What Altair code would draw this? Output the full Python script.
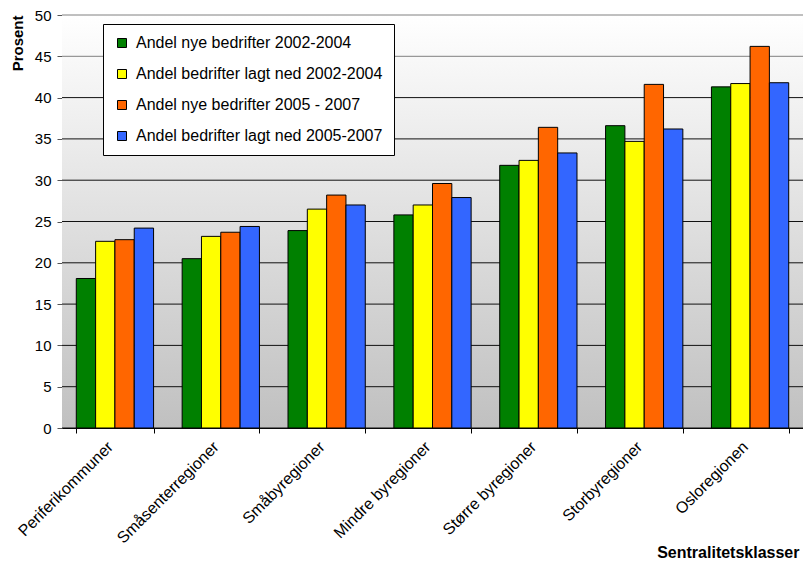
import altair as alt
import pandas as pd

categories = ["Periferikommuner", "Småsenterregioner", "Småbyregioner",
              "Mindre byregioner", "Større byregioner", "Storbyregioner",
              "Osloregionen"]
series = ["Andel nye bedrifter 2002-2004",
          "Andel bedrifter lagt ned 2002-2004",
          "Andel nye bedrifter 2005 - 2007",
          "Andel bedrifter lagt ned 2005-2007"]
nye_0204 = [18.1, 20.5, 23.9, 25.8, 31.8, 36.6, 41.3]
ned_0204 = [22.6, 23.2, 26.5, 27.0, 32.4, 34.7, 41.7]
nye_0507 = [22.8, 23.7, 28.2, 29.6, 36.4, 41.6, 46.2]
ned_0507 = [24.2, 24.4, 27.0, 27.9, 33.3, 36.2, 41.8]
colors = ["#008000", "#FFFF00", "#FF6600", "#3366FF"]
y_ticks = [0, 5, 10, 15, 20, 25, 30, 35, 40, 45, 50]

rows = []
for s, vals in zip(series, [nye_0204, ned_0204, nye_0507, ned_0507]):
    for c, v in zip(categories, vals):
        rows.append({"cat": c, "series": s, "val": v})
df = pd.DataFrame(rows)

FONT = "Liberation Sans"
W, H = 741, 413

y_scale = alt.Scale(domain=[0, 50], nice=False)
y_axis = alt.Axis(values=y_ticks, tickSize=5, labelPadding=6, labelFontSize=15,
                  labelFont=FONT, labelColor="black", domainColor="#555555",
                  tickColor="#555555", grid=False, title="Prosent",
                  titleFont=FONT, titleFontSize=15, titleFontWeight="bold",
                  titleColor="black", titleAnchor="end", titlePadding=9)

bg = alt.Chart(alt.Data(values=[{"a": 1}])).mark_rect(
    color=alt.Gradient(gradient="linear",
                       stops=[alt.GradientStop(color="#ffffff", offset=0),
                              alt.GradientStop(color="#c0c0c0", offset=1)],
                       x1=0, x2=0, y1=0, y2=1)
).encode(x=alt.value(0), x2=alt.value("width"), y=alt.value(0), y2=alt.value("height"))

grid = alt.Chart(pd.DataFrame({"v": y_ticks})).mark_rule(
    strokeWidth=1
).encode(y=alt.Y("v:Q", scale=y_scale, axis=y_axis),
         x=alt.value(0), x2=alt.value("width"),
         color=alt.condition("datum.v >= 45", alt.value("#808080"), alt.value("#111111")))

bars = alt.Chart(df).mark_bar(stroke="black", strokeWidth=1).encode(
    x=alt.X("cat:N", sort=categories,
            scale=alt.Scale(domain=categories, paddingInner=0.27, paddingOuter=0.135),
            axis=alt.Axis(labelAngle=-45, labelFont=FONT, labelFontSize=16,
                          labelColor="black", labelPadding=11, labelAlign="right",
                          labelBaseline="middle", labelOffset=-5, tickBand="extent",
                          tickSize=5, domainColor="black", tickColor="black",
                          title="Sentralitetsklasser", titleFont=FONT,
                          titleFontSize=16, titleFontWeight="bold",
                          titleColor="black", titleAnchor="end",
                          titleAlign="right", titleX=W - 4, titleY=129,
                          titleBaseline="alphabetic")),
    xOffset=alt.XOffset("series:N", sort=series,
                        scale=alt.Scale(domain=series, paddingInner=0, paddingOuter=0)),
    y=alt.Y("val:Q", scale=y_scale, axis=y_axis),
    color=alt.Color("series:N", sort=series,
                    scale=alt.Scale(domain=series, range=colors),
                    legend=alt.Legend(title=None, orient="none", legendX=41, legendY=9,
                                      fillColor="white", strokeColor="black",
                                      padding=11, rowPadding=15, symbolType="square",
                                      symbolSize=81, symbolStrokeColor="black",
                                      symbolStrokeWidth=1, labelFont=FONT,
                                      labelFontSize=16, labelColor="black",
                                      labelOffset=6, labelLimit=400)),
)

chart = alt.layer(bg, grid, bars).properties(
    width=W, height=H,
    autosize=alt.AutoSizeParams(type="none"),
    padding={"left": 54, "top": 7, "right": 0, "bottom": 135},
).configure_view(strokeWidth=0).configure(background="white")

chart.save("out.html", embed_options={"renderer": "svg", "actions": False})
